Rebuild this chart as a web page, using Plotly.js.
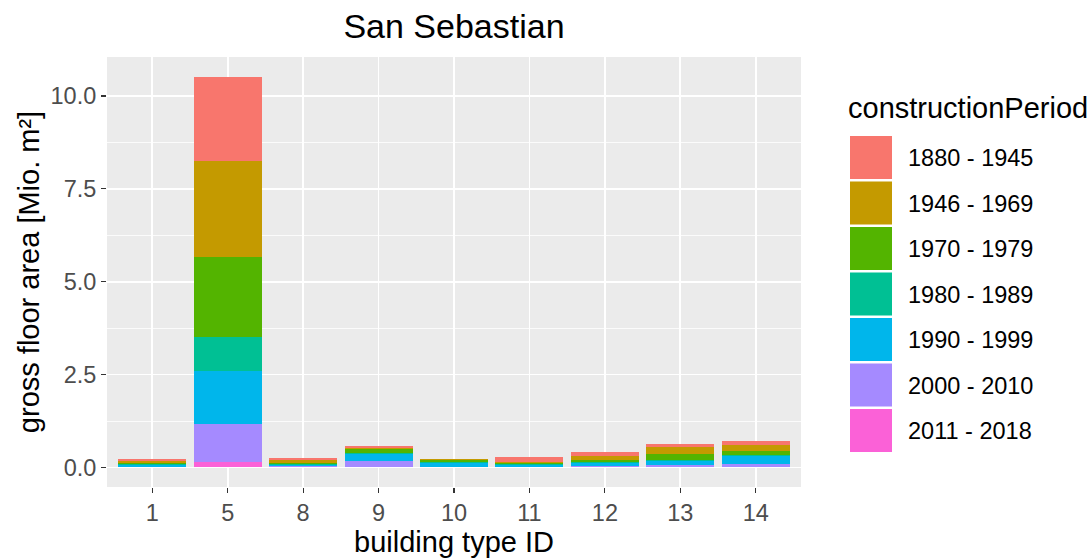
<!DOCTYPE html>
<html>
<head>
<meta charset="utf-8">
<script src="https://cdn.plot.ly/plotly-3.0.1.min.js"></script>
<style>html,body{margin:0;padding:0;background:#fff;}#chart{width:1090px;height:558px;}</style>
</head>
<body>
<div id="chart"></div>
<script>
// Categories (building type IDs)
const buildingTypes = ['1', '5', '8', '9', '10', '11', '12', '13', '14'];

// Construction periods (legend order, top of stack first)
const periods = ['1880 - 1945', '1946 - 1969', '1970 - 1979', '1980 - 1989', '1990 - 1999', '2000 - 2010', '2011 - 2018'];
const periodColors = ['#F8766D', '#C49A00', '#53B400', '#00C094', '#00B6EB', '#A58AFF', '#FB61D7'];

// Gross floor area [Mio. m²] per period, per building type
const v1880_1945 = [0.050, 2.27, 0.045, 0.050, 0.005, 0.120, 0.100, 0.100, 0.115];
const v1946_1969 = [0.045, 2.58, 0.100, 0.030, 0.030, 0.030, 0.110, 0.170, 0.170];
const v1970_1979 = [0.030, 2.16, 0.030, 0.110, 0.070, 0.050, 0.070, 0.160, 0.090];
const v1980_1989 = [0.020, 0.90, 0.010, 0.020, 0.020, 0.020, 0.025, 0.045, 0.045];
const v1990_1999 = [0.050, 1.43, 0.040, 0.190, 0.090, 0.035, 0.070, 0.100, 0.220];
const v2000_2010 = [0.020, 1.02, 0.030, 0.150, 0.020, 0.020, 0.035, 0.055, 0.070];
const v2011_2018 = [0.005, 0.16, 0.003, 0.020, 0.005, 0.005, 0.005, 0.010, 0.010];

const seriesValues = [v1880_1945, v1946_1969, v1970_1979, v1980_1989, v1990_1999, v2000_2010, v2011_2018];

// Stack: bottom = last period, so add traces in reverse order
const traces = [];
for (let i = periods.length - 1; i >= 0; i--) {
  traces.push({
    type: 'bar',
    x: buildingTypes,
    y: seriesValues[i],
    name: periods[i],
    width: 0.9,
    marker: {color: periodColors[i], line: {width: 0}},
    showlegend: false,
    hoverinfo: 'x+y+name'
  });
}

const W = 1090, H = 558;
const ML = 107, MR = 289, MT = 57, MB = 71;
const legX0 = 850, legX1 = 892, legTop = 136, step = 45.5, keyH = 43;

const layout = {
  width: W, height: H,
  paper_bgcolor: '#ffffff',
  plot_bgcolor: '#EBEBEB',
  margin: {l: ML, r: MR, t: MT, b: MB, pad: 0},
  barmode: 'stack',
  font: {family: 'Liberation Sans, Arial, sans-serif', color: '#000'},
  title: {
    text: 'San Sebastian',
    font: {size: 34, color: '#000', family: 'Liberation Sans, Arial, sans-serif'},
    x: 0.5, xref: 'paper', xanchor: 'center',
    y: 1 - 26 / H, yref: 'container', yanchor: 'middle'
  },
  xaxis: {
    type: 'category',
    range: [-0.6, 8.6],
    showgrid: true, gridcolor: '#ffffff', gridwidth: 1.6,
    zeroline: false, showline: false,
    ticks: 'outside', ticklen: 5, tickwidth: 1.2, tickcolor: '#333333',
    tickfont: {size: 23.5, color: '#4D4D4D'},
    title: {text: 'building type ID', font: {size: 29, color: '#000'}, standoff: 2}
  },
  yaxis: {
    range: [-0.526, 11.05],
    tickvals: [0, 2.5, 5, 7.5, 10],
    ticktext: ['0.0', '2.5', '5.0', '7.5', '10.0'],
    showgrid: true, gridcolor: '#ffffff', gridwidth: 1.6,
    minor: {tickvals: [1.25, 3.75, 6.25, 8.75], showgrid: true, gridcolor: '#ffffff', gridwidth: 0.8, ticks: ''},
    zeroline: false, showline: false,
    ticks: 'outside', ticklen: 5, tickwidth: 1.2, tickcolor: '#333333',
    tickfont: {size: 23.5, color: '#4D4D4D'},
    title: {text: 'gross floor area [Mio. m²]', font: {size: 29, color: '#000'}, standoff: 2}
  },
  shapes: [],
  annotations: [],
  showlegend: false
};

const pw = W - ML - MR, ph = H - MT - MB;
const px = (x) => (x - ML) / pw;
const py = (y) => (H - MB - y) / ph;

// legend title
layout.annotations.push({
  xref: 'paper', yref: 'paper',
  x: px(846), y: py(108),
  xanchor: 'left', yanchor: 'middle',
  text: 'constructionPeriod', showarrow: false,
  font: {size: 29, color: '#000'}
});
periods.forEach((p, i) => {
  const y0 = legTop + i * step;
  layout.shapes.push({
    type: 'rect', xref: 'paper', yref: 'paper',
    x0: px(legX0), x1: px(legX1), y0: py(y0 + keyH), y1: py(y0),
    fillcolor: periodColors[i], line: {width: 0}
  });
  layout.annotations.push({
    xref: 'paper', yref: 'paper',
    x: px(906), y: py(y0 + keyH / 2 + 0.5),
    xanchor: 'left', yanchor: 'middle',
    text: p, showarrow: false,
    font: {size: 23.5, color: '#000'}
  });
});

Plotly.newPlot('chart', traces, layout, {displayModeBar: false, staticPlot: true});
</script>
</body>
</html>
